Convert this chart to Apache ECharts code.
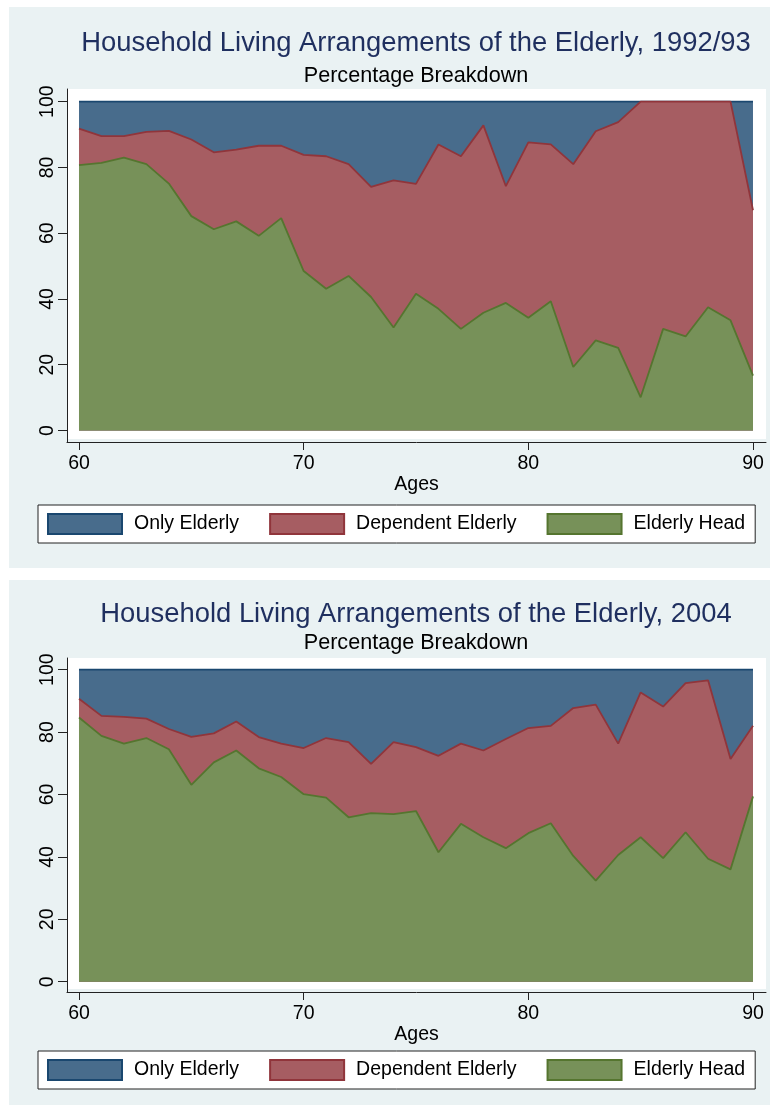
<!DOCTYPE html>
<html>
<head>
<meta charset="utf-8">
<script src="https://cdn.jsdelivr.net/npm/echarts@6/dist/echarts.min.js"></script>
<style>
html,body{margin:0;padding:0;background:#ffffff;}
#chart{width:770px;height:1105px;}
</style>
</head>
<body>
<div id="chart"></div>
<script>
// ---------- data ----------
const ages = [60,61,62,63,64,65,66,67,68,69,70,71,72,73,74,75,76,77,78,79,80,81,82,83,84,85,86,87,88,89,90];

// 1992/93 shares (%)
const head9293      = [80.7,81.4,83.0,81.0,75.1,65.2,61.2,63.6,59.2,64.6,48.5,43.1,47.0,40.6,31.3,41.6,37.0,30.9,35.8,38.8,34.3,39.3,19.3,27.4,25.1,10.1,30.9,28.6,37.5,33.5,16.7];
const dependent9293 = [11.1,8.1,6.5,9.8,16.0,23.3,23.4,21.8,27.4,22.0,35.3,40.3,34.0,33.5,44.8,33.4,50.0,52.5,57.0,35.5,53.3,47.7,61.7,63.6,68.7,89.9,69.1,71.4,62.5,66.5,50.3];
const only9293      = [8.2,10.5,10.5,9.2,8.9,11.5,15.4,14.6,13.4,13.4,16.2,16.6,19.0,25.9,23.9,25.0,13.0,16.6,7.2,25.7,12.4,13.0,19.0,9.0,6.2,0,0,0,0,0,33.0];

// 2004 shares (%)
const head2004      = [84.7,78.8,76.3,78.1,74.5,63.1,70.3,74.1,68.4,65.6,60.1,59.0,52.7,54.0,53.7,54.7,41.5,50.6,46.3,42.8,47.6,50.8,40.3,32.4,40.6,46.3,39.6,47.9,39.4,36.0,59.4];
const dependent2004 = [6.0,6.4,8.6,6.2,6.5,15.4,9.3,9.3,10.0,10.7,14.8,19.1,24.1,15.8,23.1,20.5,30.9,25.7,27.8,35.0,33.7,31.2,47.4,56.4,35.7,46.4,48.6,47.8,57.2,35.4,22.6];
const only2004      = [9.3,14.8,15.1,15.7,19.0,21.5,20.4,16.6,21.6,23.7,25.1,21.9,23.2,30.2,23.2,24.8,27.6,23.7,25.9,22.2,18.7,18.0,12.3,11.2,23.7,7.3,11.8,4.3,3.4,28.6,18.0];

const xTicks = [60,70,80,90];
const yTicks = [0,20,40,60,80,100];
const titles = ['Household Living Arrangements of the Elderly, 1992/93','Household Living Arrangements of the Elderly, 2004'];
const subtitleText = 'Percentage Breakdown';
const xName = 'Ages';
const seriesNames = ['Only Elderly','Dependent Elderly','Elderly Head'];

// ---------- styles ----------
const FONT = "'Liberation Sans', Arial, Helvetica, sans-serif";
const lineColors = ['#1a476f','#90353b','#55752f'];
const fillColors = ['#486c8c','#a65d62','#779159'];
const panelBg = '#eaf2f3';

const panels = [
  {gridTop:89, gridBottom:442, yMin:-3.5, yMax:103.86, titleTop:30, subTop:65, legendTop:505, whiteBottom:439, panelTop:7, panelH:561},
  {gridTop:658, gridBottom:992, yMin:-3.3, yMax:103.75, titleTop:601, subTop:632, legendTop:1051, whiteBottom:989, panelTop:580, panelH:525}
];
const dataSets = [
  [only9293, dependent9293, head9293],
  [only2004, dependent2004, head2004]
];

// cumulative (stacked) level of a series: its own share plus all shares drawn beneath it
function cumulative(sets, s) {
  return ages.map((a, k) => {
    let v = 0;
    for (let t = s; t < sets.length; t++) v += sets[t][k];
    return [a, Math.round(v * 10) / 10];
  });
}

const grids = [], xAxes = [], yAxes = [], series = [], legends = [], titleArr = [], graphics = [];

panels.forEach((p, i) => {
  graphics.push({type:'rect', z:-5, silent:true, shape:{x:9, y:p.panelTop, width:761, height:p.panelH}, style:{fill:panelBg}});
  graphics.push({type:'rect', z:-4, silent:true, shape:{x:67, y:p.gridTop, width:699, height:p.whiteBottom - p.gridTop}, style:{fill:'#ffffff'}});

  grids.push({left:67, right:4, top:p.gridTop, height:p.gridBottom - p.gridTop, containLabel:false});

  xAxes.push({
    type:'value', gridIndex:i, min:59.466, max:90.579,
    name:xName, nameLocation:'middle', nameGap:32,
    nameTextStyle:{fontFamily:FONT, fontSize:19.5, color:'#000'},
    axisLine:{show:true, onZero:false, lineStyle:{color:'#222', width:1}},
    axisTick:{show:true, length:8, customValues:xTicks, lineStyle:{color:'#222', width:1}},
    axisLabel:{show:true, customValues:xTicks, margin:12, fontFamily:FONT, fontSize:19.5, color:'#000'},
    splitLine:{show:false}
  });
  yAxes.push({
    type:'value', gridIndex:i, min:p.yMin, max:p.yMax,
    axisLine:{show:true, onZero:false, lineStyle:{color:'#222', width:1}},
    axisTick:{show:true, length:9, customValues:yTicks, lineStyle:{color:'#222', width:1}},
    axisLabel:{show:true, customValues:yTicks, rotate:90, margin:9, fontFamily:FONT, fontSize:19.5, color:'#000'},
    splitLine:{show:false}
  });

  // overlapping areas: Only Elderly (full stack) drawn first, Elderly Head last
  [0,1,2].forEach((s) => {
    series.push({
      type:'line', name:seriesNames[s], xAxisIndex:i, yAxisIndex:i,
      data: cumulative(dataSets[i], s),
      symbol:'none', showSymbol:false, smooth:false,
      lineStyle:{color:lineColors[s], width:1.8},
      itemStyle:{color:fillColors[s]},
      areaStyle:{color:fillColors[s], opacity:1, origin:'auto'},
      z: 2 + s,
      animation:false
    });
  });

  legends.push({
    left:38, top:p.legendTop, orient:'horizontal',
    backgroundColor:'#ffffff', borderColor:'#222', borderWidth:1,
    padding:[8,10,8,9],
    itemWidth:74, itemHeight:20, itemGap:30, icon:'rect',
    selectedMode:false,
    textStyle:{fontFamily:FONT, fontSize:19.5, color:'#000', padding:[0,0,0,7]},
    data: seriesNames.map((n, s) => ({name:n, itemStyle:{color:fillColors[s], borderColor:lineColors[s], borderWidth:2}}))
  });

  titleArr.push({
    text:titles[i], left:416, top:p.titleTop, textAlign:'center', padding:0,
    textStyle:{fontFamily:FONT, fontSize:27.4, fontWeight:'normal', color:'#1f2f5f'}
  });
  titleArr.push({
    text:subtitleText, left:416, top:p.subTop, textAlign:'center', padding:0,
    textStyle:{fontFamily:FONT, fontSize:21.6, fontWeight:'normal', color:'#000'}
  });
});

const chart = echarts.init(document.getElementById('chart'), null, {renderer:'canvas'});
chart.setOption({
  animation:false,
  backgroundColor:'#ffffff',
  title:titleArr,
  grid:grids,
  xAxis:xAxes,
  yAxis:yAxes,
  legend:legends,
  graphic:{elements:graphics},
  series:series
});
</script>
</body>
</html>
